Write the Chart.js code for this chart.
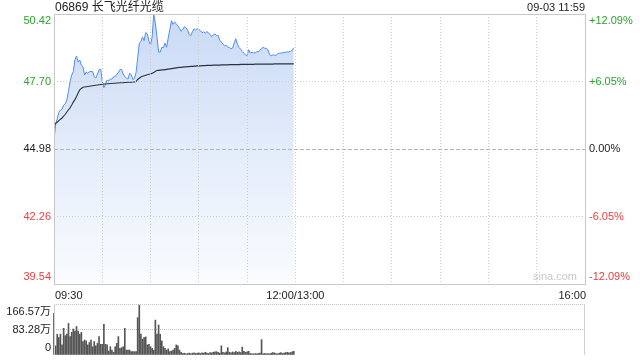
<!DOCTYPE html>
<html><head><meta charset="utf-8">
<script src="https://cdn.jsdelivr.net/npm/chart.js@4.4.1/dist/chart.umd.min.js"></script>
<style>
html,body{margin:0;padding:0;background:#fff;width:640px;height:360px;overflow:hidden}
canvas{position:absolute;left:0;top:0}
</style></head><body>
<canvas id="p" width="640" height="360"></canvas>
<canvas id="v" width="640" height="360"></canvas>
<script>
const stockTitle = '06869 长飞光纤光缆';
const stampText = '09-03 11:59';
const prevClose = 44.98;
const priceTicks = [50.42, 47.70, 44.98, 42.26, 39.54];
const priceTickColors = ['#2aa52a', '#2aa52a', '#222222', '#ee3b3b', '#ee3b3b'];
const pctLabels = ['+12.09%', '+6.05%', '0.00%', '-6.05%', '-12.09%'];
const gridMinutes = [0, 30, 60, 90, 120, 150, 180, 210, 240, 270, 300, 330];
const timeLabels = ['09:30', '12:00/13:00', '16:00'];
const timeLabelMinutes = [0, 150, 330];
const volTicks = [166.57, 83.28, 0];
const volTickLabels = ['166.57万', '83.28万', '0'];

// one value per minute, 09:30 .. 11:59
const price = [
45.34,45.95,46.20,46.45,46.55,46.58,46.75,46.80,46.96,47.30,
47.70,47.96,48.10,48.57,48.73,48.48,48.57,48.35,48.30,47.96,
48.08,48.03,48.10,48.10,48.10,47.89,47.84,48.00,48.17,48.20,
47.70,47.45,47.60,47.76,47.72,47.80,47.80,47.89,47.90,47.98,
48.06,48.18,48.18,48.00,47.90,47.83,47.80,48.03,47.98,47.78,
47.83,48.06,48.65,49.25,49.31,49.49,49.35,49.67,49.62,49.32,
49.18,49.50,50.42,50.05,49.51,48.89,48.88,49.08,49.06,49.24,
49.08,49.46,49.80,50.15,50.00,50.10,50.02,49.94,49.85,49.72,
49.80,49.91,49.86,49.78,49.60,49.55,49.70,49.82,49.78,49.83,
49.80,49.75,49.67,49.70,49.65,49.71,49.66,49.60,49.51,49.58,
49.62,49.55,49.56,49.37,49.29,49.21,49.14,49.16,49.08,49.08,
49.01,49.05,49.25,49.42,49.20,49.07,49.00,48.91,48.84,48.76,
48.75,48.98,48.84,48.88,48.86,48.85,48.90,48.90,48.95,49.03,
49.08,49.04,49.03,48.97,48.78,48.74,48.77,48.76,48.75,48.82,
48.84,48.85,48.85,48.88,48.87,48.90,48.89,48.92,48.95,49.06
];
const avgPrice = [
45.90,46.02,46.06,46.12,46.18,46.23,46.30,46.38,46.47,46.56,
46.64,46.75,46.87,46.97,47.10,47.24,47.36,47.42,47.47,47.48,
47.49,47.50,47.51,47.52,47.53,47.54,47.55,47.56,47.57,47.58,
47.59,47.60,47.60,47.61,47.61,47.62,47.62,47.63,47.63,47.64,
47.64,47.65,47.65,47.65,47.66,47.66,47.67,47.67,47.67,47.68,
47.68,47.70,47.78,47.83,47.88,47.91,47.93,47.95,47.97,47.99,
48.00,48.03,48.06,48.11,48.14,48.15,48.16,48.17,48.17,48.18,
48.19,48.20,48.21,48.22,48.23,48.24,48.25,48.26,48.27,48.27,
48.28,48.29,48.29,48.30,48.30,48.31,48.31,48.32,48.32,48.33,
48.33,48.33,48.34,48.34,48.34,48.35,48.35,48.35,48.35,48.36,
48.36,48.36,48.36,48.36,48.37,48.37,48.37,48.37,48.37,48.38,
48.38,48.38,48.38,48.38,48.38,48.38,48.39,48.39,48.39,48.39,
48.39,48.39,48.39,48.39,48.39,48.40,48.40,48.40,48.40,48.40,
48.40,48.40,48.40,48.40,48.40,48.40,48.40,48.41,48.41,48.41,
48.41,48.41,48.41,48.41,48.41,48.41,48.41,48.41,48.41,48.41
];
// volume in 万 shares per minute
const volume = [
136,30,68,57,68,33,87,63,68,103,
60,74,85,78,93,78,68,74,44,49,
46,33,41,49,27,44,30,38,60,35,
35,100,35,33,13,27,16,9,27,38,
60,22,24,27,87,16,16,16,11,11,
11,11,122,163,68,52,57,59,33,35,
27,22,16,114,68,98,68,46,27,22,
16,20,11,13,16,22,33,30,16,9,
5,6,4,5,6,4,6,7,5,6,
7,5,7,6,9,6,5,8,7,9,
10,11,9,6,30,9,7,10,24,9,
7,10,8,12,9,10,8,26,12,9,
10,12,5,4,4,5,4,5,6,50,
4,5,4,5,4,6,8,7,5,4,
6,8,5,6,8,9,7,8,10,12
];

const FONT = '"Liberation Sans", Arial, "Noto Sans CJK SC", sans-serif';
const L = 54, R = 585, T = 14, B = 284, VT = 304, VB = 355;

const isPrev = c => c.tick && Math.abs(c.tick.value - prevClose) < 1e-6;

const pricePlugin = {
  id: 'priceDecor',
  afterDraw(chart) {
    const ctx = chart.ctx, a = chart.chartArea, ys = chart.scales.y, xs = chart.scales.x;
    ctx.save();
    ctx.strokeStyle = '#c8c8c8'; ctx.lineWidth = 1; ctx.setLineDash([]);
    ctx.strokeRect(Math.round(a.left) + 0.5, Math.round(a.top) + 0.5, Math.round(a.right - a.left), Math.round(a.bottom - a.top));
    ctx.textBaseline = 'middle';
    ctx.font = '12px ' + FONT; ctx.fillStyle = '#222'; ctx.textAlign = 'left';
    ctx.fillText(stockTitle, 55, 7.5);
    ctx.font = '11px ' + FONT; ctx.textAlign = 'right';
    ctx.fillText(stampText, 585, 7.5);
    priceTicks.forEach((v, i) => {
      let y = ys.getPixelForValue(v);
      y = Math.min(Math.max(y, a.top + 6.5), a.bottom - 7);
      ctx.fillStyle = priceTickColors[i];
      ctx.textAlign = 'right'; ctx.fillText(v.toFixed(2), 51, y);
      ctx.textAlign = 'left'; ctx.fillText(pctLabels[i], 589, y);
    });
    ctx.fillStyle = '#222';
    timeLabels.forEach((t, i) => {
      const x = xs.getPixelForValue(timeLabelMinutes[i]);
      ctx.textAlign = i === 0 ? 'left' : (i === timeLabels.length - 1 ? 'right' : 'center');
      ctx.fillText(t, i === 0 ? x + 1 : (i === timeLabels.length - 1 ? x + 1 : x), 296);
    });
    ctx.fillStyle = '#c8c8c8'; ctx.textAlign = 'right';
    ctx.fillText('sina.com', 577, 277);
    ctx.restore();
  }
};

new Chart(document.getElementById('p'), {
  type: 'line',
  data: { datasets: [
    { data: avgPrice.map((y, i) => ({ x: i, y })), borderColor: '#2b333d', borderWidth: 1.1, pointRadius: 0, fill: false, tension: 0 },
    { data: price.map((y, i) => ({ x: i, y })), borderColor: '#4f8ef2', borderWidth: 1, pointRadius: 0, tension: 0, fill: 'start',
      backgroundColor: c => {
        const ch = c.chart, ar = ch.chartArea;
        if (!ar) return 'rgba(200,218,246,0.6)';
        const g = ch.ctx.createLinearGradient(0, ar.top, 0, ar.bottom);
        g.addColorStop(0, '#c9daf6'); g.addColorStop(0.5, '#e3ecfa'); g.addColorStop(1, '#fafcff');
        return g;
      } }
  ] },
  options: {
    responsive: false, animation: false, devicePixelRatio: 1,
    layout: { padding: { left: L, right: 640 - R, top: T, bottom: 360 - B } },
    plugins: { legend: { display: false }, tooltip: { enabled: false } },
    scales: {
      x: { type: 'linear', min: 0, max: 330, offset: false,
        afterBuildTicks: s => { s.ticks = gridMinutes.map(v => ({ value: v })); },
        ticks: { display: false }, grid: { z: 1, drawTicks: false, offset: false, color: '#cdcdcd' }, border: { display: false, dash: [1, 2] } },
      y: { type: 'linear', min: 39.54, max: 50.42,
        afterBuildTicks: s => { s.ticks = priceTicks.map(v => ({ value: v })); },
        ticks: { display: false },
        grid: { z: 1, drawTicks: false, color: c => isPrev(c) ? '#b4b4b4' : '#cdcdcd' },
        border: { display: false, dash: c => isPrev(c) ? [4, 2] : [1, 2] } }
    }
  },
  plugins: [pricePlugin]
});

const volPlugin = {
  id: 'volDecor',
  afterDraw(chart) {
    const ctx = chart.ctx, a = chart.chartArea, ys = chart.scales.y;
    ctx.save();
    ctx.strokeStyle = '#d0d0d0'; ctx.lineWidth = 1;
    ctx.beginPath();
    ctx.moveTo(Math.round(a.left) + 0.5, a.top); ctx.lineTo(Math.round(a.left) + 0.5, a.bottom);
    ctx.moveTo(Math.round(a.right) - 0.5, a.top); ctx.lineTo(Math.round(a.right) - 0.5, a.bottom);
    ctx.stroke();
    ctx.font = '11px ' + FONT; ctx.fillStyle = '#222'; ctx.textAlign = 'right'; ctx.textBaseline = 'middle';
    volTicks.forEach((v, i) => {
      let y = ys.getPixelForValue(v);
      y = Math.min(Math.max(y, a.top + 8), a.bottom - 7);
      ctx.fillText(volTickLabels[i], 51, y);
    });
    ctx.restore();
  }
};

new Chart(document.getElementById('v'), {
  type: 'bar',
  data: { datasets: [{ data: volume.map((y, i) => ({ x: i, y })), backgroundColor: '#555555', barThickness: 1, borderWidth: 0, clip: false }] },
  options: {
    responsive: false, animation: false, devicePixelRatio: 1,
    layout: { padding: { left: L, right: 640 - R, top: VT, bottom: 360 - VB } },
    plugins: { legend: { display: false }, tooltip: { enabled: false } },
    scales: {
      x: { type: 'linear', min: 0, max: 330, offset: false, display: false, grid: { offset: false } },
      y: { type: 'linear', min: 0, max: 166.57,
        afterBuildTicks: s => { s.ticks = volTicks.map(v => ({ value: v })); },
        ticks: { display: false },
        grid: { drawTicks: false, color: c => (c.tick && c.tick.value === 0) ? 'rgba(0,0,0,0)' : '#c4c4c4' },
        border: { display: false, dash: [1, 1] } }
    }
  },
  plugins: [volPlugin]
});
</script>
</body></html>
